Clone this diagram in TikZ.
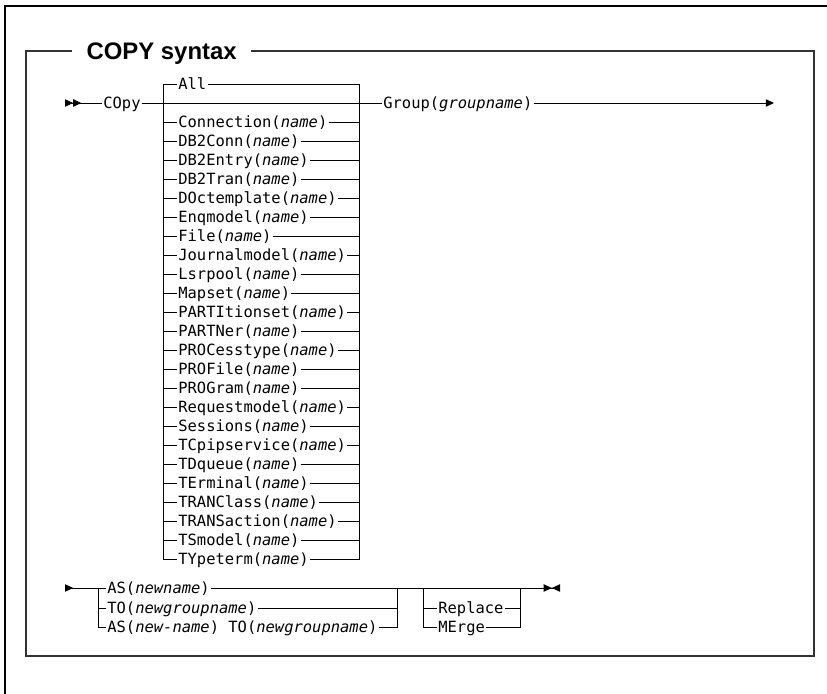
\documentclass[tikz,border=0pt]{standalone}
\usepackage{fontspec}
\setmonofont{DejaVu Sans Mono}[ItalicFont={DejaVu Sans Mono Oblique}]
\newfontfamily\headfont{Liberation Sans}
\usepackage{tikz}
\usetikzlibrary{arrows.meta}
\newcommand{\vn}[1]{\textit{#1}}

\begin{document}
\begin{tikzpicture}[x=0.025cm,y=-0.025cm,line width=0.7pt,
  >={Triangle[length=5.8pt,width=5.2pt]},
  opt/.style={anchor=west,font=\ttfamily\fontsize{11}{13}\selectfont,
    inner xsep=0.6pt,inner ysep=0pt,text height=8pt,text depth=0pt},
  heading/.style={anchor=west,font=\headfont\bfseries\fontsize{17}{20}\selectfont,
    inner xsep=10pt,inner ysep=0pt,text height=12.2pt,text depth=0pt},
  frame/.style={black!80,line width=1.5pt}]
\useasboundingbox (0,0) rectangle (827,694);
% page border and syntax box
\draw[line width=1.5pt] (5,694) -- (5,6) -- (827,6);
\node[heading] (title) at (72,51) {COPY syntax};
\draw[frame] (title.west) -| (26,656) -| (814,51) -- (title.east);
% first line
\coordinate (s1) at (65,103);
\coordinate (e1) at (774,103);
\coordinate (L1) at (163,84);
\coordinate (R1) at (359,84);
\node[opt] (copy) at (102,103) {COpy};
\node[opt] (group) at (382,103) {Group(\vn{groupname})};
\node[opt] (all) at (177,84) {All};
\node[opt] (conn) at (177,122) {Connection(\vn{name})};
\node[opt] (dbcon) at (177,141) {DB2Conn(\vn{name})};
\node[opt] (dbent) at (177,160) {DB2Entry(\vn{name})};
\node[opt] (dbtran) at (177,179) {DB2Tran(\vn{name})};
\node[opt] (doct) at (177,198) {DOctemplate(\vn{name})};
\node[opt] (enq) at (177,217) {Enqmodel(\vn{name})};
\node[opt] (file) at (177,236) {File(\vn{name})};
\node[opt] (jrnl) at (177,255) {Journalmodel(\vn{name})};
\node[opt] (lsr) at (177,274) {Lsrpool(\vn{name})};
\node[opt] (maps) at (177,293) {Mapset(\vn{name})};
\node[opt] (ptset) at (177,312) {PARTItionset(\vn{name})};
\node[opt] (ptner) at (177,331) {PARTNer(\vn{name})};
\node[opt] (proc) at (177,350) {PROCesstype(\vn{name})};
\node[opt] (prof) at (177,369) {PROFile(\vn{name})};
\node[opt] (prog) at (177,388) {PROGram(\vn{name})};
\node[opt] (reqm) at (177,407) {Requestmodel(\vn{name})};
\node[opt] (sess) at (177,426) {Sessions(\vn{name})};
\node[opt] (tcp) at (177,445) {TCpipservice(\vn{name})};
\node[opt] (tdq) at (177,464) {TDqueue(\vn{name})};
\node[opt] (term) at (177,483) {TErminal(\vn{name})};
\node[opt] (trcl) at (177,502) {TRANClass(\vn{name})};
\node[opt] (trans) at (177,521) {TRANSaction(\vn{name})};
\node[opt] (tsm) at (177,540) {TSmodel(\vn{name})};
\node[opt] (type) at (177,559) {TYpeterm(\vn{name})};
\draw[{>[]>[]}-] (s1) -- (copy);
\draw (copy) -- (group);
\draw[->] (group) -- (e1);
\draw (all) -- (L1) |- (type);
\draw (all) -- (R1) |- (type);
\draw (conn -| L1) -- (conn) -- (conn -| R1);
\draw (dbcon -| L1) -- (dbcon) -- (dbcon -| R1);
\draw (dbent -| L1) -- (dbent) -- (dbent -| R1);
\draw (dbtran -| L1) -- (dbtran) -- (dbtran -| R1);
\draw (doct -| L1) -- (doct) -- (doct -| R1);
\draw (enq -| L1) -- (enq) -- (enq -| R1);
\draw (file -| L1) -- (file) -- (file -| R1);
\draw (jrnl -| L1) -- (jrnl) -- (jrnl -| R1);
\draw (lsr -| L1) -- (lsr) -- (lsr -| R1);
\draw (maps -| L1) -- (maps) -- (maps -| R1);
\draw (ptset -| L1) -- (ptset) -- (ptset -| R1);
\draw (ptner -| L1) -- (ptner) -- (ptner -| R1);
\draw (proc -| L1) -- (proc) -- (proc -| R1);
\draw (prof -| L1) -- (prof) -- (prof -| R1);
\draw (prog -| L1) -- (prog) -- (prog -| R1);
\draw (reqm -| L1) -- (reqm) -- (reqm -| R1);
\draw (sess -| L1) -- (sess) -- (sess -| R1);
\draw (tcp -| L1) -- (tcp) -- (tcp -| R1);
\draw (tdq -| L1) -- (tdq) -- (tdq -| R1);
\draw (term -| L1) -- (term) -- (term -| R1);
\draw (trcl -| L1) -- (trcl) -- (trcl -| R1);
\draw (trans -| L1) -- (trans) -- (trans -| R1);
\draw (tsm -| L1) -- (tsm) -- (tsm -| R1);
% second line
\coordinate (s2) at (65,588);
\coordinate (e2) at (560,588);
\coordinate (L2) at (98,588);
\coordinate (R2) at (397,588);
\coordinate (L3) at (423,588);
\coordinate (R3) at (520,588);
\node[opt] (asnew) at (106,588) {AS(\vn{newname})};
\node[opt] (tonew) at (106,608) {TO(\vn{newgroupname})};
\node[opt] (asto) at (106,627) {AS(\vn{new-name}) TO(\vn{newgroupname})};
\node[opt] (repl) at (437,608) {Replace};
\node[opt] (merge) at (437,627) {MErge};
\draw[{>[]}-] (s2) -- (asnew);
\draw[-{>[]>[reversed]}] (asnew) -- (e2);
\draw (L2) |- (asto);
\draw (tonew -| L2) -- (tonew) -- (tonew -| R2);
\draw (asto) -| (R2);
\draw (L3) |- (merge);
\draw (repl -| L3) -- (repl) -- (repl -| R3);
\draw (merge) -| (R3);
\end{tikzpicture}
\end{document}
